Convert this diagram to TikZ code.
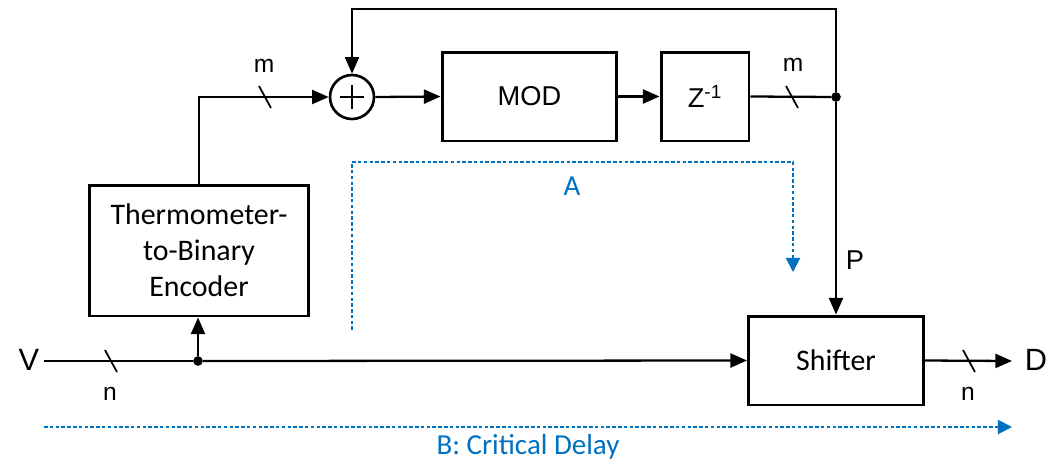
\documentclass[tikz,border=0pt]{standalone}
\usepackage{fontspec}
\setmainfont{Carlito}
\newfontfamily\arialfont{Liberation Sans}
\usepackage{xcolor}
\usetikzlibrary{arrows.meta,positioning}
\definecolor{pathblue}{HTML}{0070C0}

\begin{document}
\begin{tikzpicture}[x=0.02cm, y=-0.02cm, >={Triangle[length=9.5pt,width=8pt]},
  blk/.style={rectangle, draw=black, line width=1.7pt, minimum width=3.5cm, minimum height=1.78cm, font=\fontsize{17}{20.5}\selectfont, align=center},
  ablk/.style={blk, font=\arialfont\fontsize{15.5}{18}\selectfont},
  sig/.style={line width=1.3pt},
  tick/.style={line width=1pt},
  lbl/.style={font=\arialfont\fontsize{14}{16}\selectfont},
  io/.style={font=\arialfont\fontsize{17.5}{20}\selectfont},
  crit/.style={draw=pathblue, line width=1.1pt, dash pattern=on 2pt off 1.3pt, -{Triangle[length=8pt,width=8pt]}},
  clbl/.style={text=pathblue, font=\fontsize{16.5}{19}\selectfont},
  jdot/.style={circle, fill=black, inner sep=0pt, minimum size=5.5pt}]
\useasboundingbox (0,0) rectangle (1047,464);
% blocks
\node[blk, minimum width=4.4cm, minimum height=2.62cm] (enc) at (199,250.5) {Thermometer-\\to-Binary\\Encoder};
\node[circle, draw, line width=1.5pt, minimum size=0.88cm] (add) at (352,97) {};
\draw[line width=1.5pt] (add.center) ++(-12,0) -- ++(24,0);
\draw[line width=1.5pt] (add.center) ++(0,-12) -- ++(0,24);
\node[ablk] (mod) at (529.5,96.5) {MOD};
\node[ablk, minimum width=1.76cm] (zinv) at (705,96.5) {Z\textsuperscript{-1}};
\node[blk] (shift) at (836,360.5) {Shifter};
% junctions and ends
\node[jdot] (tap) at (836,97) {};
\node[jdot] (split) at (198,361) {};
\coordinate (vin) at (44,361);
\coordinate (dout) at (1012,361);
\coordinate (fb) at (836,9);
\node[io] (v) at (29,360) {V};
\node[io] (d) at (1036,360) {D};
% signals
\draw[sig] (vin) -- (split);
\draw[sig,->] (split) -- (shift.west);
\draw[sig,->] (split) -- (split |- enc.south);
\draw[sig,->] (enc.north) |- (add.west);
\draw[sig,->] (add.east) -- (mod.west);
\draw[sig,->] (mod.east) -- (zinv.west);
\draw[sig] (zinv.east) -- (tap);
\draw[sig,->] (tap) -- (fb) -| (add.north);
\draw[sig,->] (tap) -- (shift.north);
\draw[sig,->] (shift.east) -- (dout);
% bus widths
\coordinate (t1) at (111,361);
\coordinate (t2) at (265,97);
\coordinate (t3) at (792,97);
\coordinate (t4) at (969,361);
\foreach \t in {t1,t2,t3,t4}
  \draw[tick] (\t) ++(-6,-11) -- ++(12,22);
\node[lbl] (m1) at (264,66) {m};
\node[lbl] (m2) at (793,65) {m};
\node[lbl] (n1) at (110,394) {n};
\node[lbl] (n2) at (968,394) {n};
\node[io, font=\arialfont\fontsize{15.5}{18}\selectfont] (p) at (855,260) {P};
% critical paths
\coordinate (a0) at (352,330);
\coordinate (a1) at (352,162);
\coordinate (a2) at (793,162);
\coordinate (a3) at (793,272);
\draw[crit] (a0) -- (a1) -- (a2) -- (a3);
\node[clbl] (alb) at (572,186) {A};
\coordinate (b0) at (44,427);
\coordinate (b1) at (1012,427);
\draw[crit] (b0) -- (b1);
\node[clbl] (blb) at (528,447) {B: Critical Delay};
\end{tikzpicture}
\end{document}
